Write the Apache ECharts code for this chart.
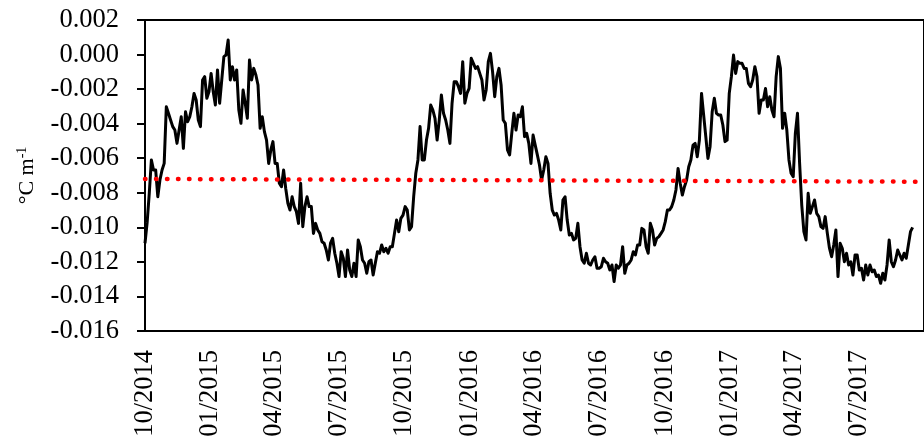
<!DOCTYPE html>
<html>
<head>
<meta charset="utf-8">
<script src="https://cdn.jsdelivr.net/npm/echarts@6/dist/echarts.min.js"></script>
<style>
  html, body { margin: 0; padding: 0; background: #ffffff; }
  #chart { width: 924px; height: 440px; }
</style>
</head>
<body>
<div id="chart"></div>
<script>
// Temperature gradient (°C per metre), one value every 3 days from 1 Oct 2014
const startDate = '2014-10-01';
const stepDays = 3;

// Oct 2014 - Sep 2015
const gradientYear1 = [
  -0.01092, -0.00973, -0.00803, -0.00610, -0.00668, -0.00668, -0.00823, -0.00726, -0.00668, -0.00630,
  -0.00302, -0.00340, -0.00379, -0.00417, -0.00437, -0.00514, -0.00437, -0.00360, -0.00543, -0.00331,
  -0.00389, -0.00360, -0.00302, -0.00225, -0.00263, -0.00379, -0.00417, -0.00147, -0.00128, -0.00253,
  -0.00215, -0.00109, -0.00215, -0.00292, -0.00089, -0.00282, -0.00147, -0.00012, -0.00003,  0.00084,
  -0.00147, -0.00070, -0.00147, -0.00089, -0.00321, -0.00398, -0.00205, -0.00282, -0.00369, -0.00032,
  -0.00147, -0.00080, -0.00118, -0.00176, -0.00427, -0.00360, -0.00446, -0.00495, -0.00630, -0.00552,
  -0.00504, -0.00630, -0.00630, -0.00745, -0.00765, -0.00668, -0.00775, -0.00861, -0.00900, -0.00823,
  -0.00880, -0.00909, -0.00977, -0.00745, -0.00996, -0.00880, -0.00823, -0.00880, -0.00880, -0.01035,
  -0.00977, -0.01015, -0.01035, -0.01083, -0.01092, -0.01131, -0.01189, -0.01092, -0.01064, -0.01150,
  -0.01208, -0.01285, -0.01141, -0.01179, -0.01285, -0.01131, -0.01247, -0.01285, -0.01208, -0.01285,
  -0.01073, -0.01112, -0.01189, -0.01208, -0.01266, -0.01199, -0.01189, -0.01276, -0.01208, -0.01141,
  -0.01150, -0.01102, -0.01141, -0.01121, -0.01150, -0.01112, -0.01112, -0.01035, -0.00958, -0.01025,
  -0.00948, -0.00929
];

// Oct 2015 - Sep 2016
const gradientYear2 = [
  -0.00880, -0.00900, -0.01015, -0.00996, -0.00823, -0.00687, -0.00610, -0.00417,
  -0.00610, -0.00610, -0.00495, -0.00427, -0.00292, -0.00321, -0.00369, -0.00495, -0.00379, -0.00234,
  -0.00340, -0.00379, -0.00437, -0.00514, -0.00282, -0.00157, -0.00157, -0.00186, -0.00225, -0.00041,
  -0.00282, -0.00225, -0.00196, -0.00022, -0.00051, -0.00080, -0.00070, -0.00109, -0.00147, -0.00263,
  -0.00205, -0.00041,  0.00007, -0.00099, -0.00244, -0.00128, -0.00080, -0.00176, -0.00379, -0.00398,
  -0.00552, -0.00581, -0.00456, -0.00340, -0.00437, -0.00350, -0.00360, -0.00302, -0.00475, -0.00456,
  -0.00514, -0.00630, -0.00466, -0.00524, -0.00581, -0.00639, -0.00726, -0.00668, -0.00591, -0.00630,
  -0.00803, -0.00900, -0.00929, -0.00919, -0.00958, -0.01015, -0.00842, -0.00823, -0.00958, -0.01044,
  -0.01035, -0.01073, -0.01064, -0.00977, -0.01112, -0.01189, -0.01208, -0.01150, -0.01208, -0.01218,
  -0.01189, -0.01170, -0.01237, -0.01237, -0.01228, -0.01179, -0.01199, -0.01208, -0.01247, -0.01218,
  -0.01314, -0.01218, -0.01237, -0.01218, -0.01112, -0.01266, -0.01218, -0.01208, -0.01189, -0.01141,
  -0.01160, -0.01102, -0.01102, -0.01006, -0.01015, -0.01112, -0.01150, -0.00977, -0.01015, -0.01102,
  -0.01064, -0.01054, -0.01035, -0.01015
];

// Oct 2016 - Sep 2017
const gradientYear3 = [
  -0.00967, -0.00900, -0.00900, -0.00880, -0.00842, -0.00784,
  -0.00659, -0.00745, -0.00813, -0.00765, -0.00726, -0.00649, -0.00610, -0.00524, -0.00514, -0.00591,
  -0.00495, -0.00225, -0.00350, -0.00475, -0.00601, -0.00533, -0.00331, -0.00253, -0.00340, -0.00350,
  -0.00350, -0.00408, -0.00504, -0.00495, -0.00225, -0.00128, -0.00003, -0.00109, -0.00041, -0.00051,
  -0.00051, -0.00080, -0.00080, -0.00167, -0.00186, -0.00147, -0.00070, -0.00128, -0.00340, -0.00263,
  -0.00263, -0.00196, -0.00302, -0.00244, -0.00321, -0.00360, -0.00128, -0.00012, -0.00080, -0.00427,
  -0.00340, -0.00437, -0.00610, -0.00687, -0.00707, -0.00456, -0.00340, -0.00630, -0.00871, -0.01025,
  -0.01073, -0.00803, -0.00919, -0.00880, -0.00842, -0.00919, -0.00938, -0.00996, -0.01006, -0.00938,
  -0.01035, -0.01121, -0.01170, -0.01102, -0.01015, -0.01285, -0.01092, -0.01121, -0.01199, -0.01150,
  -0.01218, -0.01199, -0.01276, -0.01160, -0.01160, -0.01247, -0.01237, -0.01305, -0.01218, -0.01276,
  -0.01218, -0.01257, -0.01247, -0.01285, -0.01276, -0.01324, -0.01266, -0.01305, -0.01218, -0.01073,
  -0.01199, -0.01228, -0.01189, -0.01131, -0.01160, -0.01189, -0.01150, -0.01179, -0.01102, -0.01025,
  -0.01000
];

// Linear trend of the series
const trendDates = ['2014-10-01', '2017-10-01'];
const trendValues = [-0.00720, -0.00736];

// Quarterly tick labels along the time axis
const tickDates = [
  '2014-10-01', '2015-01-01', '2015-04-01', '2015-07-01', '2015-10-01', '2016-01-01',
  '2016-04-01', '2016-07-01', '2016-10-01', '2017-01-01', '2017-04-01', '2017-07-01'
];
const tickLabels = [
  '10/2014', '01/2015', '04/2015', '07/2015', '10/2015', '01/2016',
  '04/2016', '07/2016', '10/2016', '01/2017', '04/2017', '07/2017'
];
const axisEndDate = '2017-10-01';

const yMin = -0.016, yMax = 0.002, yStep = 0.002;

const DAY_MS = 86400000;
const dayOf = d => Math.round((Date.parse(d) - Date.parse(startDate)) / DAY_MS);
const tickDays = tickDates.map(dayOf);

const gradient = gradientYear1.concat(gradientYear2, gradientYear3);
const seriesData = gradient.map((v, i) => [i * stepDays, v]);
const trendData = trendDates.map((d, i) => [dayOf(d), trendValues[i]]);

const serif = '"Liberation Serif", "Times New Roman", "DejaVu Serif", serif';

const chart = echarts.init(document.getElementById('chart'), null, { renderer: 'canvas' });
chart.setOption({
  animation: false,
  backgroundColor: '#ffffff',
  grid: {
    left: 145, right: -14, top: 20, bottom: 109,
    show: true, borderColor: '#000000', borderWidth: 2, backgroundColor: 'transparent'
  },
  xAxis: {
    type: 'value',
    min: 0,
    max: dayOf(axisEndDate),
    axisLine: { show: true, onZero: false, lineStyle: { color: '#000000', width: 2 } },
    axisTick: { show: false },
    splitLine: { show: false },
    axisLabel: {
      customValues: tickDays,
      rotate: 90,
      margin: 19,
      color: '#000000',
      fontFamily: serif,
      fontSize: 26.5,
      formatter: v => tickLabels[tickDays.indexOf(Math.round(v))] || ''
    }
  },
  yAxis: {
    type: 'value',
    min: yMin,
    max: yMax,
    interval: yStep,
    axisLine: { show: true, lineStyle: { color: '#000000', width: 2 } },
    axisTick: { show: true, inside: false, length: 8, lineStyle: { color: '#000000', width: 2 } },
    splitLine: { show: false },
    axisLabel: {
      margin: 26,
      color: '#000000',
      fontFamily: serif,
      fontSize: 26.5,
      formatter: v => (Math.round(v * 1000) / 1000).toFixed(3)
    },
    name: '°C m{sup|-1}',
    nameLocation: 'middle',
    nameRotate: 90,
    nameGap: 95,
    nameTextStyle: {
      color: '#000000',
      fontFamily: serif,
      fontSize: 22,
      lineHeight: 24,
      rich: {
        sup: { fontFamily: serif, fontSize: 14, color: '#000000', verticalAlign: 'top', lineHeight: 24 }
      }
    }
  },
  series: [
    {
      type: 'line',
      data: seriesData,
      showSymbol: false,
      symbol: 'none',
      lineStyle: { color: '#000000', width: 3, join: 'round' },
      z: 2
    },
    {
      type: 'line',
      data: trendData,
      showSymbol: false,
      symbol: 'none',
      lineStyle: { color: '#ff0000', width: 4.5, type: [0.5, 10.5], cap: 'round' },
      z: 3
    }
  ]
});
</script>
</body>
</html>
